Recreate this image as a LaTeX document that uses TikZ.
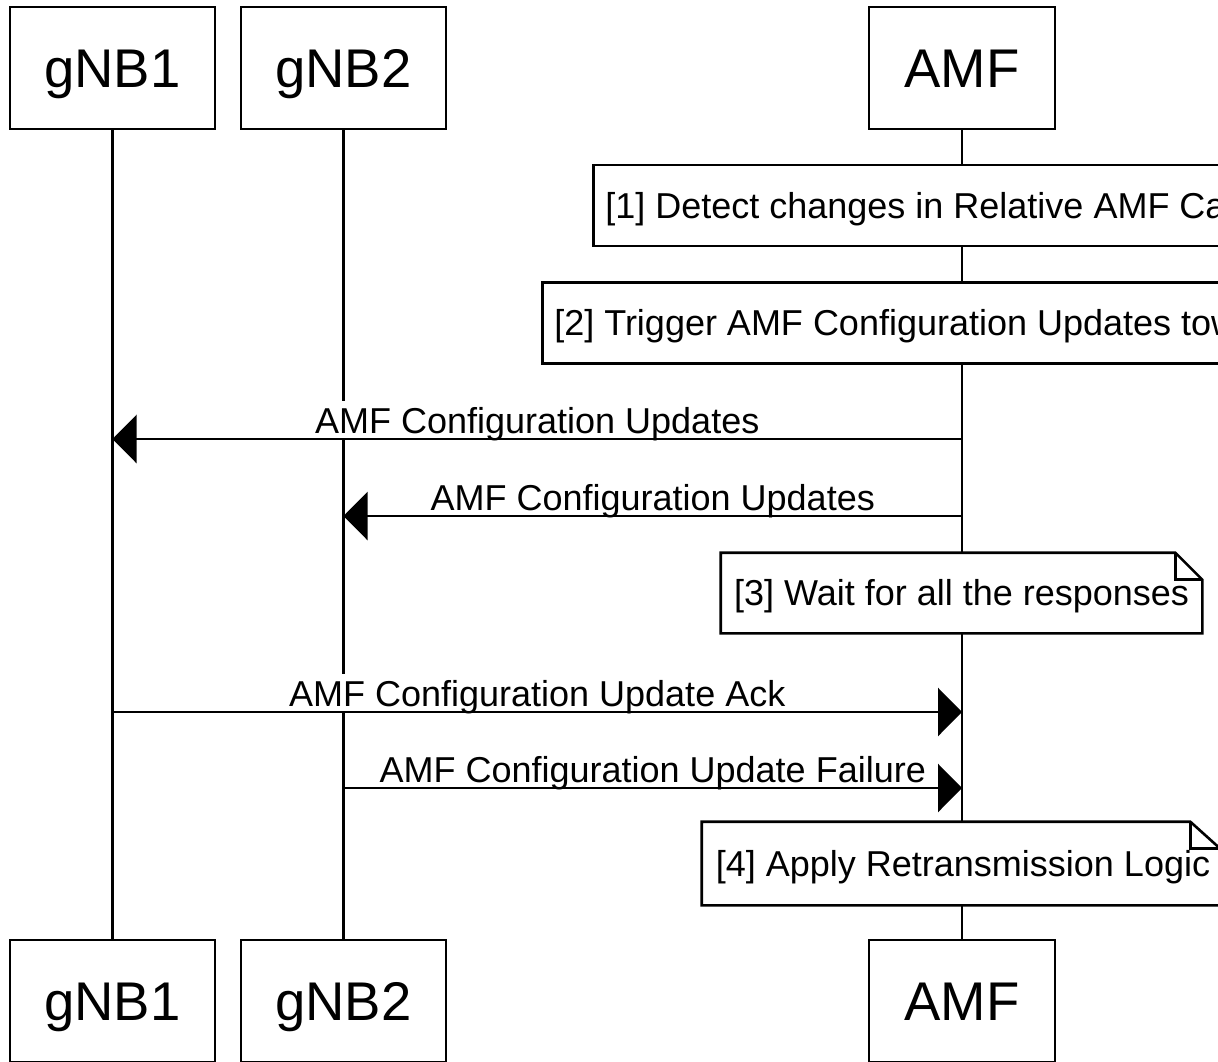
\documentclass[tikz,border=0pt]{standalone}
\usepackage{fontspec}
\setmainfont{Liberation Sans}
\usetikzlibrary{arrows.meta}
\begin{document}
\begin{tikzpicture}[x=1pt,y=-1pt,line width=2.6pt,
  actor/.style={draw,fill=white,minimum height=122pt,inner sep=0pt,text height=38.7pt,text depth=0pt,font=\fontsize{54.5}{64}\selectfont},
  notebox/.style={fill=white,minimum height=81pt,inner xsep=12pt,inner ysep=0pt,text height=25.8pt,text depth=0pt,font=\fontsize{36}{43}\selectfont},
  msg/.style={-{Triangle[length=24pt,width=48pt]}},
  lbl/.style={fill=white,inner xsep=1pt,inner ysep=0pt,text height=32pt,text depth=4.5pt,anchor=base,font=\fontsize{36}{43}\selectfont},
  life/.style={line width=2.4pt}]
\useasboundingbox (0,0) rectangle (1218,1061);
\clip (0,0) rectangle (1218,1061);
\fill[white] (0,0) rectangle (1218,1061);
% participants
\node[actor,minimum width=205pt] (g1t) at (112.5,68) {gNB1};
\node[actor,minimum width=205pt] (g2t) at (343.5,68) {gNB2};
\node[actor,minimum width=186pt] (amft) at (962,68) {AMF};
\node[actor,minimum width=205pt] (g1b) at (112.5,1001) {gNB1};
\node[actor,minimum width=205pt] (g2b) at (343.5,1001) {gNB2};
\node[actor,minimum width=186pt] (amfb) at (962,1001) {AMF};
% lifelines
\draw[life] (g1t) -- (g1b);
\draw[life] (g2t) -- (g2b);
\draw[life] (amft) -- (amfb);
% notes
\node[notebox,draw,anchor=west] (n1) at (592,205.5) {[1] Detect changes in Relative AMF Capacity};
\node[notebox,draw,anchor=west] (n2) at (541,323) {[2] Trigger AMF Configuration Updates towards gNBs};
\node[notebox,minimum height=78pt,minimum width=479pt,inner xsep=9pt] (n3) at (961.5,593) {[3] Wait for all the responses};
\draw (n3.north west) -- ([xshift=-27pt]n3.north east) -- ([yshift=-27pt]n3.north east) -- (n3.south east) -- (n3.south west) -- cycle;
\draw ([xshift=-27pt]n3.north east) -- ([xshift=-27pt,yshift=-27pt]n3.north east) -- ([yshift=-27pt]n3.north east);
\node[notebox,minimum width=516pt,inner xsep=7pt] (n4) at (961,863.5) {\hspace*{4pt}[4] Apply Retransmission Logic};
\draw (n4.north west) -- ([xshift=-30pt]n4.north east) -- ([yshift=-27pt]n4.north east) -- (n4.south east) -- (n4.south west) -- cycle;
\draw ([xshift=-30pt]n4.north east) -- ([xshift=-30pt,yshift=-27pt]n4.north east) -- ([yshift=-27pt]n4.north east);
% messages
\coordinate (y1) at (0,439);
\coordinate (y2) at (0,516);
\coordinate (y3) at (0,712);
\coordinate (y4) at (0,788);
\draw[msg] (amft |- y1) -- (g1t |- y1) node[lbl,midway,yshift=6pt] {AMF Configuration Updates};
\draw[msg] (amft |- y2) -- (g2t |- y2) node[lbl,midway,yshift=6pt] {AMF Configuration Updates};
\draw[msg] (g1t |- y3) -- (amft |- y3) node[lbl,midway,yshift=6pt] {AMF Configuration Update Ack};
\draw[msg] (g2t |- y4) -- (amft |- y4) node[lbl,midway,yshift=6pt] {AMF Configuration Update Failure};
\end{tikzpicture}
\end{document}
